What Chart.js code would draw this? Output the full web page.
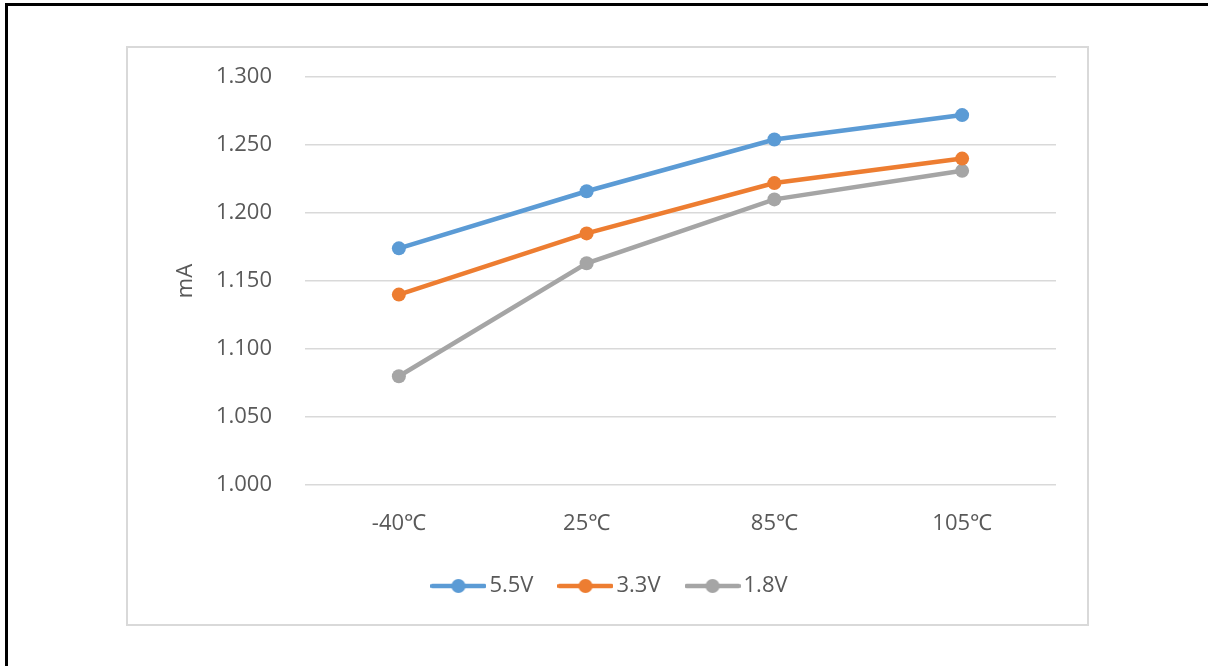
<!DOCTYPE html>
<html>
<head>
<meta charset="utf-8">
<script src="https://cdn.jsdelivr.net/npm/chart.js@4"></script>
<style>
  html, body { margin: 0; padding: 0; background: #fff; }
  body { width: 1208px; height: 666px; position: relative; overflow: hidden; }
  #frame { position: absolute; left: 5px; top: 3px; width: 1300px; height: 800px;
           border-left: 3px solid #000; border-top: 3px solid #000; }
  #box { position: absolute; left: 126px; top: 46px; width: 959px; height: 576px;
         border: 2px solid #d9d9d9; }
  #wrap { position: absolute; left: 128px; top: 48px; width: 957px; height: 574px; }
</style>
</head>
<body>
<div id="frame"></div>
<div id="box"></div>
<div id="wrap"><canvas id="chart"></canvas></div>
<script>
const categories = ['-40℃', '25℃', '85℃', '105℃'];
const v55 = [1.174, 1.216, 1.254, 1.272];
const v33 = [1.140, 1.185, 1.222, 1.240];
const v18 = [1.080, 1.163, 1.210, 1.231];
const seriesNames = ['5.5V', '3.3V', '1.8V'];
const colors = ['#5b9bd5', '#ed7d31', '#a5a5a5'];

const FONT = "'Open Sans', 'Noto Sans', 'DejaVu Sans', sans-serif";
const TXT = '#595959';

// icon for legend: line with a dot in the middle
const legendIcon = (color) => {
    const c = document.createElement('canvas');
    c.width = 56; c.height = 16;
    const g = c.getContext('2d');
    g.strokeStyle = color;
    g.lineWidth = 4.5;
    g.lineCap = 'round';
    g.beginPath();
    g.moveTo(2, 8); g.lineTo(54, 8);
    g.stroke();
    g.fillStyle = color;
    g.beginPath();
    g.arc(28, 8, 7, 0, Math.PI * 2);
    g.fill();
    return c;
};

const mkSet = (label, data, color) => ({
    label: label,
    data: data,
    borderColor: color,
    backgroundColor: color,
    borderWidth: 4.5,
    pointRadius: 7,
    pointHoverRadius: 7,
    pointBorderWidth: 0,
    pointStyle: 'circle',
    tension: 0
});

const data = {
    labels: categories,
    datasets: [
        mkSet(seriesNames[0], v55, colors[0]),
        mkSet(seriesNames[1], v33, colors[1]),
        mkSet(seriesNames[2], v18, colors[2])
    ]
};

const config = {
    type: 'line',
    data: data,
    options: {
        responsive: true,
        maintainAspectRatio: false,
        animation: false,
        layout: { padding: { left: 42, right: 29, top: 29, bottom: 15 } },
        plugins: {
            legend: {
                position: 'bottom',
                labels: {
                    usePointStyle: true,
                    pointStyleWidth: 40,
                    padding: 32,
                    color: TXT,
                    font: { family: FONT, size: 22 },
                    generateLabels: (chart) => chart.data.datasets.map((ds, i) => ({
                        text: ds.label,
                        pointStyle: legendIcon(colors[i]),
                        fillStyle: colors[i],
                        strokeStyle: colors[i],
                        lineWidth: 0,
                        fontColor: TXT,
                        datasetIndex: i,
                        hidden: false
                    }))
                }
            },
            tooltip: { enabled: false }
        },
        scales: {
            x: {
                offset: true,
                grid: { display: false, drawTicks: false },
                border: { display: false },
                ticks: { color: TXT, padding: 26, font: { family: FONT, size: 22 } },
                afterFit: (s) => { s.height = 58; }
            },
            y: {
                min: 1.0,
                max: 1.3,
                grid: { color: '#d9d9d9', lineWidth: 1.5, drawTicks: false },
                border: { display: false },
                ticks: {
                    stepSize: 0.05,
                    padding: 33,
                    color: TXT,
                    font: { family: FONT, size: 22 },
                    callback: (v) => v.toFixed(3)
                },
                title: {
                    display: true,
                    text: 'mA',
                    color: TXT,
                    font: { family: FONT, size: 22 },
                    padding: { top: 3, bottom: 0 }
                },
                afterFit: (s) => {
                    s.width = 135;
                    // tick padding should not push the plot area down
                    s.paddingTop = 0;
                    s.paddingBottom = 0;
                }
            }
        }
    }
};

const ctx = document.getElementById('chart').getContext('2d');
new Chart(ctx, config);
</script>
</body>
</html>
